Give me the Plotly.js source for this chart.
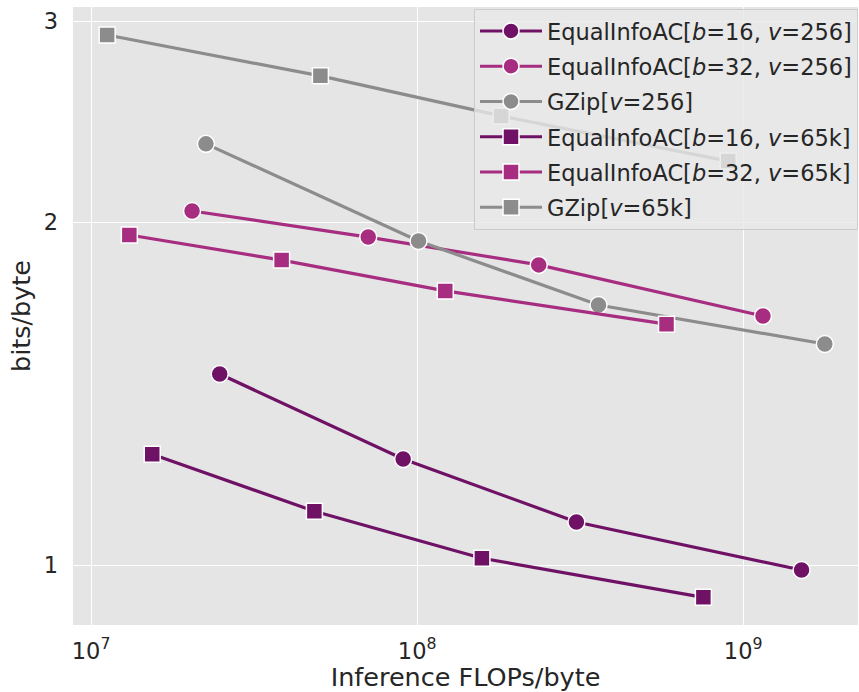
<!DOCTYPE html>
<html><head><meta charset="utf-8">
<script src="https://cdn.plot.ly/plotly-3.0.1.min.js"></script>
<style>body{margin:0;padding:0;background:#fff}#chart{width:859px;height:692px}</style>
</head><body><div id="chart"></div>
<script>
// Data
const names = [
  'EqualInfoAC[<i>b</i>=16, <i>v</i>=256]',
  'EqualInfoAC[<i>b</i>=32, <i>v</i>=256]',
  'GZip[<i>v</i>=256]',
  'EqualInfoAC[<i>b</i>=16, <i>v</i>=65k]',
  'EqualInfoAC[<i>b</i>=32, <i>v</i>=65k]',
  'GZip[<i>v</i>=65k]'
];
const eqB16V256_x = [2.48e7, 9.06e7, 3.08e8, 1.51e9];
const eqB16V256_y = [1.471, 1.239, 1.091, 0.990];
const eqB32V256_x = [2.04e7, 7.08e7, 2.36e8, 1.15e9];
const eqB32V256_y = [2.045, 1.940, 1.834, 1.654];
const gzipV256_x = [2.25e7, 1.01e8, 3.60e8, 1.78e9];
const gzipV256_y = [2.342, 1.925, 1.691, 1.563];
const eqB16V65k_x = [1.54e7, 4.84e7, 1.58e8, 7.55e8];
const eqB16V65k_y = [1.251, 1.115, 1.014, 0.937];
const eqB32V65k_x = [1.31e7, 3.84e7, 1.22e8, 5.82e8];
const eqB32V65k_y = [1.948, 1.852, 1.740, 1.627];
const gzipV65k_x = [1.12e7, 5.05e7, 1.81e8, 9.0e8];
const gzipV65k_y = [2.918, 2.687, 2.478, 2.262];

const xTickVals = [1e7, 1e8, 1e9];
const xTickText = ['10<sup>7</sup>', '10<sup>8</sup>', '10<sup>9</sup>'];
const yTickVals = [1, 2, 3];
const yTickText = ['1', '2', '3'];

const DARK = '#6f1266', MAG = '#a62d80', GREY = '#8c8c8c';

function tr(name, xs, ys, color, symbol, size) {
  return {
    type: 'scatter', mode: 'lines+markers', name: name, x: xs, y: ys,
    line: {color: color, width: 3.2},
    marker: {color: color, symbol: symbol, size: size, line: {color: '#ffffff', width: 1.5}},
    legendgroup: name
  };
}
const data = [
  tr(names[0], eqB16V256_x, eqB16V256_y, DARK, 'circle', 17),
  tr(names[1], eqB32V256_x, eqB32V256_y, MAG, 'circle', 17),
  tr(names[2], gzipV256_x, gzipV256_y, GREY, 'circle', 17),
  tr(names[3], eqB16V65k_x, eqB16V65k_y, DARK, 'square', 16),
  tr(names[4], eqB32V65k_x, eqB32V65k_y, MAG, 'square', 16),
  tr(names[5], gzipV65k_x, gzipV65k_y, GREY, 'square', 16)
];

const layout = {
  width: 859, height: 692,
  margin: {l: 73, r: 1, t: 7, b: 67},
  paper_bgcolor: '#ffffff', plot_bgcolor: '#e5e5e5',
  font: {family: 'DejaVu Sans', size: 22, color: '#262626'},
  showlegend: true,
  xaxis: {
    type: 'log', range: [Math.log10(8.8e6), Math.log10(2.25e9)],
    tickvals: xTickVals, ticktext: xTickText,
    gridcolor: '#ffffff', gridwidth: 1.2, zeroline: false, showline: false,
    ticks: '', ticklabelstandoff: 10, tickfont: {size: 22.5, color: '#262626'},
    title: {text: 'Inference FLOPs/byte', font: {size: 25.5, color: '#262626'}, standoff: 4}
  },
  yaxis: {
    type: 'log', range: [Math.log10(0.886), Math.log10(3.088)],
    tickvals: yTickVals, ticktext: yTickText,
    gridcolor: '#ffffff', gridwidth: 1.2, zeroline: false, showline: false,
    ticks: '', ticklabelstandoff: 14, tickfont: {size: 22.5, color: '#262626'},
    title: {text: 'bits/byte', font: {size: 25.5, color: '#262626'}, standoff: 5}
  },
  legend: {
    x: 1, xanchor: 'right', y: 0.997, yanchor: 'top',
    bgcolor: 'rgba(233,233,233,0.8)', bordercolor: '#cccccc', borderwidth: 1,
    font: {size: 22.5, color: '#262626'},
    itemwidth: 62,
    traceorder: 'grouped', tracegroupgap: 3
  }
};
Plotly.newPlot('chart', data, layout, {displayModeBar: false});
</script></body></html>
